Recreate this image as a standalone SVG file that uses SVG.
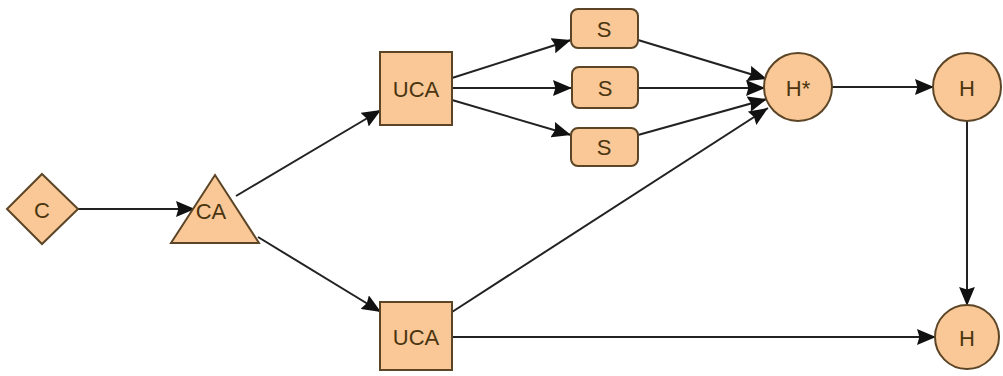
<svg xmlns="http://www.w3.org/2000/svg" width="1003" height="376" viewBox="0 0 1003 376">
  <defs>
    <marker id="arrow" viewBox="0 0 12 10" refX="12" refY="5" markerWidth="19" markerHeight="16" markerUnits="userSpaceOnUse" orient="auto">
      <path d="M0,0 L12,5 L0,10 L1.5,5 Z" fill="#111"/>
    </marker>
    <style>
      .node { fill: #f9c896; stroke: #5c4526; stroke-width: 2; }
      .label { font-family: "Liberation Sans", Arial, sans-serif; font-size: 22px; fill: #4a3510; text-anchor: middle; dominant-baseline: central; }
      .edge { fill: none; stroke: #222222; stroke-width: 2; }
    </style>
  </defs>
  <rect width="1003" height="376" fill="#ffffff"/>

  <g id="connectors">
    <line class="edge" x1="78" y1="209" x2="195" y2="209" marker-end="url(#arrow)"/>
    <line class="edge" x1="236" y1="196" x2="381" y2="110" marker-end="url(#arrow)"/>
    <line class="edge" x1="258" y1="237" x2="381" y2="312" marker-end="url(#arrow)"/>
    <line class="edge" x1="452" y1="78" x2="571" y2="40" marker-end="url(#arrow)"/>
    <line class="edge" x1="452" y1="88" x2="572" y2="88" marker-end="url(#arrow)"/>
    <line class="edge" x1="452" y1="100" x2="571" y2="135" marker-end="url(#arrow)"/>
    <line class="edge" x1="638" y1="40" x2="767" y2="79" marker-end="url(#arrow)"/>
    <line class="edge" x1="638" y1="88" x2="765" y2="88" marker-end="url(#arrow)"/>
    <line class="edge" x1="638" y1="135" x2="767" y2="99" marker-end="url(#arrow)"/>
    <line class="edge" x1="452" y1="312" x2="768" y2="108" marker-end="url(#arrow)"/>
    <line class="edge" x1="832" y1="87" x2="934" y2="87" marker-end="url(#arrow)"/>
    <line class="edge" x1="967" y1="121" x2="967" y2="306" marker-end="url(#arrow)"/>
    <line class="edge" x1="452" y1="337" x2="936" y2="337" marker-end="url(#arrow)"/>
  </g>

  <g id="node-c">
    <polygon class="node" points="42,174 78,209 42,244 7,209"/>
    <text class="label" x="42" y="210">C</text>
  </g>

  <g id="node-ca">
    <polygon class="node" points="215,175 259,243 171,243"/>
    <text class="label" x="211" y="211">CA</text>
  </g>

  <g id="node-uca-top">
    <rect class="node" x="380" y="52" width="72" height="73"/>
    <text class="label" x="416" y="89">UCA</text>
  </g>

  <g id="node-uca-bottom">
    <rect class="node" x="380" y="302" width="72" height="68"/>
    <text class="label" x="416" y="337">UCA</text>
  </g>

  <g id="node-s1">
    <rect class="node" x="571" y="9" width="67" height="39" rx="7"/>
    <text class="label" x="604" y="29">S</text>
  </g>

  <g id="node-s2">
    <rect class="node" x="572" y="67" width="66" height="41" rx="7"/>
    <text class="label" x="605" y="88">S</text>
  </g>

  <g id="node-s3">
    <rect class="node" x="571" y="128" width="67" height="38" rx="7"/>
    <text class="label" x="604" y="147">S</text>
  </g>

  <g id="node-hstar">
    <circle class="node" cx="798" cy="87" r="34"/>
    <text class="label" x="798" y="88">H*</text>
  </g>

  <g id="node-h-top">
    <circle class="node" cx="967" cy="87" r="34"/>
    <text class="label" x="967" y="88">H</text>
  </g>

  <g id="node-h-bottom">
    <circle class="node" cx="967" cy="337" r="32"/>
    <text class="label" x="967" y="338">H</text>
  </g>
</svg>
